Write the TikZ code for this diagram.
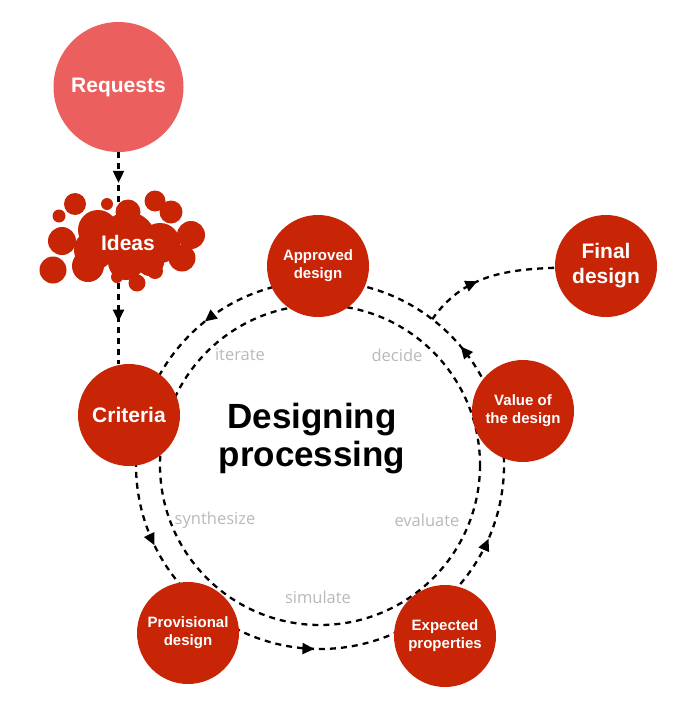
\documentclass[tikz,border=0pt]{standalone}
\usepackage{fontspec}
\setmainfont{Liberation Sans}
\newfontfamily\verbfont{Open Sans}
\usetikzlibrary{arrows.meta,decorations.markings,calc}
\definecolor{darkred}{HTML}{C82406}
\definecolor{lightred}{HTML}{EB5F5F}
\tikzset{
  bubble/.style={circle,fill=darkred,text=white,align=center,inner sep=0pt,
    minimum size=102pt,font=\bfseries\fontsize{15}{18}\selectfont},
  bigbubble/.style={bubble,font=\bfseries\fontsize{21}{25}\selectfont},
  blob/.style={fill=darkred},
  verb/.style={text=gray!55,font=\verbfont\fontsize{16.5}{19}\selectfont},
  ring/.style={line width=2.3pt,dash pattern=on 6pt off 5pt},
  flow/.style={ring,postaction={decorate},decoration={markings,
    mark=at position #1 with {\arrow{Triangle[length=12pt,width=11pt]}}}},
  flow/.default=0.5
}
\begin{document}
\begin{tikzpicture}[x=1pt,y=-1pt]
  \useasboundingbox (0,0) rectangle (680,717);
  \coordinate (ctr) at (320,465);
  % outer loop, one arc per step
  \draw[flow=0.51] ($(ctr)+(269:184)$) arc[start angle=269,end angle=195,radius=184];
  \draw[flow=0.61] ($(ctr)+(195:184)$) arc[start angle=195,end angle=128,radius=184];
  \draw[flow=0.49] ($(ctr)+(128:184)$) arc[start angle=128,end angle=54,radius=184];
  \draw[flow=0.44] ($(ctr)+(54:184)$) arc[start angle=54,end angle=-15,radius=184];
  \draw[flow=0.33] ($(ctr)+(345:184)$) arc[start angle=345,end angle=269,radius=184];
  % inner loop
  \draw[ring] (ctr) circle[radius=160];

  \node[bigbubble,fill=lightred,minimum size=130pt] (requests) at (118.5,87) {Requests};
  \node[bubble] (approved) at (318,266) {Approved\\design};
  \node[bigbubble] (criteria) at (129,415) {Criteria};
  \node[bubble] (provisional) at (188,633) {Provisional\\design};
  \node[bubble] (expected) at (445,636) {Expected\\properties};
  \node[bubble] (value) at (523,411) {Value of\\the design};
  \node[bigbubble] (final) at (606,266) {Final\\design};

  \coordinate (branch) at ($(ctr)+(307.6:184)$);
  \draw[flow=0.43] (branch) to[out=55,in=182] (final);

  \coordinate (ideastop) at (118.5,225);
  \coordinate (ideasbot) at (118.5,272);
  \draw[flow=0.42] (requests) -- (ideastop);
  \draw[flow=0.54] (ideasbot) -- (ideasbot |- criteria.north);

  % the ideas cloud
  \fill[blob] (59,216) circle[radius=6.5];
  \fill[blob] (75,204) circle[radius=11];
  \fill[blob] (107,204) circle[radius=6];
  \fill[blob] (128,212) circle[radius=12.5];
  \fill[blob] (155,201) circle[radius=10.5];
  \fill[blob] (171,212) circle[radius=11.5];
  \fill[blob] (191,235) circle[radius=14];
  \fill[blob] (182,258) circle[radius=13.5];
  \fill[blob] (62,241) circle[radius=14];
  \fill[blob] (53,270) circle[radius=13.5];
  \fill[blob] (137,283) circle[radius=8.5];
  \fill[blob] (117,277) circle[radius=6];
  \fill[blob] (155,271) circle[radius=8];
  \fill[blob] (98,230) circle[radius=20];
  \fill[blob] (94,250) circle[radius=20];
  \fill[blob] (88,266) circle[radius=16];
  \fill[blob] (128,240) circle[radius=28];
  \fill[blob] (126,262) circle[radius=18];
  \fill[blob] (160,243) circle[radius=20];
  \fill[blob] (150,262) circle[radius=14];
  \node[text=white,font=\bfseries\fontsize{21}{25}\selectfont] (ideas) at (128,243) {Ideas};

  \node[font=\bfseries\fontsize{35}{38}\selectfont,align=center] (title) at (312,439) {Designing\\processing};

  \node[verb] (iterate) at (240,355) {iterate};
  \node[verb] (decide) at (397,355) {decide};
  \node[verb] (synthesize) at (215,520) {synthesize};
  \node[verb] (evaluate) at (427,520) {evaluate};
  \node[verb] (simulate) at (318,597) {simulate};
\end{tikzpicture}
\end{document}
